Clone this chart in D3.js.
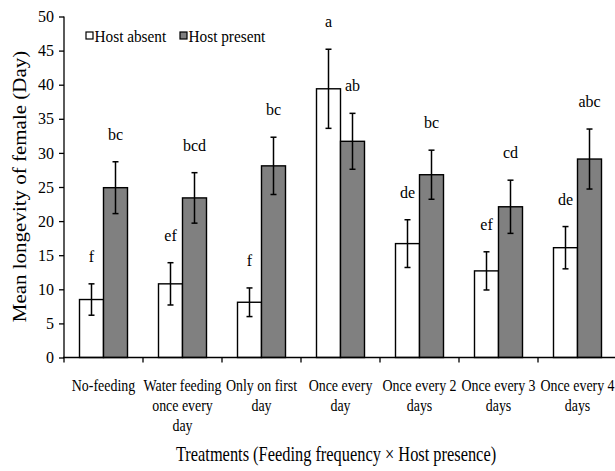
<!DOCTYPE html>
<html>
<head>
<meta charset="utf-8">
<script src="https://cdn.jsdelivr.net/npm/d3@7"></script>
<style>
  html, body { margin: 0; padding: 0; background: #fff; }
</style>
</head>
<body>
<svg id="chart" width="615" height="471"></svg>
<script>
// ---- Data ----
const categories = ["No-feeding", "Water feeding once every day", "Only on first day", "Once every day", "Once every 2 days", "Once every 3 days", "Once every 4 days"];
const categoryLines = [["No-feeding"], ["Water feeding", "once every", "day"], ["Only on first", "day"], ["Once every", "day"], ["Once every 2", "days"], ["Once every 3", "days"], ["Once every 4", "days"]];
const seriesNames = ["Host absent", "Host present"];
const absentMean = [8.5, 10.8, 8.1, 39.4, 16.7, 12.7, 16.1];
const absentErr = [2.3, 3.1, 2.1, 5.8, 3.5, 2.8, 3.1];
const presentMean = [24.9, 23.4, 28.1, 31.7, 26.8, 22.1, 29.1];
const presentErr = [3.8, 3.7, 4.2, 4.1, 3.6, 3.9, 4.4];
const absentLetters = ["f", "ef", "f", "a", "de", "ef", "de"];
const presentLetters = ["bc", "bcd", "bc", "ab", "bc", "cd", "abc"];
const yTicks = [0, 5, 10, 15, 20, 25, 30, 35, 40, 45, 50];
const yTitle = "Mean longevity of female (Day)";
const xTitle = "Treatments (Feeding frequency \u00d7 Host presence)";

// ---- Layout ----
const FONT = "'Liberation Serif', 'DejaVu Serif', serif";
const svg = d3.select("#chart").attr("font-family", FONT);
const mLeft = 64, mRight = 617, mTop = 16.5, mBottom = 357.5;
const squeeze = 0.87;
const fills = ["#ffffff", "#808080"];

const x = d3.scaleBand().domain(categories).range([mLeft, mRight]).padding(0);
const inner = d3.scaleBand().domain(seriesNames)
  .range([(x.bandwidth() - 48) / 2, (x.bandwidth() + 48) / 2]).padding(0);
const y = d3.scaleLinear().domain([0, 50]).range([mBottom, mTop]);

const rows = categories.map((c, i) => ({
  cat: c,
  vals: [
    { s: seriesNames[0], m: absentMean[i], e: absentErr[i], l: absentLetters[i] },
    { s: seriesNames[1], m: presentMean[i], e: presentErr[i], l: presentLetters[i] }
  ]
}));

// Bars
const g = svg.append("g");
const grp = g.selectAll("g.cat").data(rows).join("g")
  .attr("transform", d => `translate(${x(d.cat)},0)`);

grp.selectAll("rect").data(d => d.vals).join("rect")
  .attr("x", d => inner(d.s))
  .attr("y", d => y(d.m))
  .attr("width", inner.bandwidth())
  .attr("height", d => y(0) - y(d.m))
  .attr("fill", (d, i) => fills[i])
  .attr("stroke", "#000")
  .attr("stroke-width", 1.4);

// Error bars
const eb = grp.selectAll("g.err").data(d => d.vals).join("g")
  .attr("transform", d => `translate(${inner(d.s) + inner.bandwidth() / 2},0)`);
eb.append("line").attr("x1", 0).attr("x2", 0)
  .attr("y1", d => y(d.m + d.e)).attr("y2", d => y(d.m - d.e))
  .attr("stroke", "#000").attr("stroke-width", 1.5);
eb.append("line").attr("x1", -3).attr("x2", 3)
  .attr("y1", d => y(d.m + d.e)).attr("y2", d => y(d.m + d.e))
  .attr("stroke", "#000").attr("stroke-width", 1.5);
eb.append("line").attr("x1", -3).attr("x2", 3)
  .attr("y1", d => y(d.m - d.e)).attr("y2", d => y(d.m - d.e))
  .attr("stroke", "#000").attr("stroke-width", 1.5);
eb.append("text")
  .attr("x", 0).attr("y", d => y(d.m + d.e) - 22)
  .attr("text-anchor", "middle")
  .attr("font-family", FONT)
  .attr("font-size", 16)
  .attr("fill", "#000")
  .text(d => d.l);

// Y axis
const yAxis = d3.axisLeft(y).tickValues(yTicks).tickSize(5).tickPadding(5);
const ya = svg.append("g").attr("transform", `translate(${mLeft},0)`).call(yAxis)
  .attr("font-family", FONT).attr("font-size", 16);
ya.select(".domain").attr("stroke", "#000").attr("stroke-width", 1.3).attr("d", `M0,${mTop}V${mBottom}`);
ya.selectAll(".tick line").attr("stroke", "#000").attr("stroke-width", 1.3);
ya.selectAll(".tick text").attr("fill", "#000");

// X axis (ticks at category boundaries)
const boundaries = categories.map(c => x(c)).concat([mRight]);
const xa = svg.append("g");
xa.append("line").attr("x1", mLeft - 1).attr("x2", mRight).attr("y1", mBottom).attr("y2", mBottom)
  .attr("stroke", "#000").attr("stroke-width", 1.3);
xa.selectAll("line.tk").data(boundaries).join("line").attr("class", "tk")
  .attr("x1", d => d).attr("x2", d => d).attr("y1", mBottom).attr("y2", mBottom + 5)
  .attr("stroke", "#000").attr("stroke-width", 1.3);

// Category labels
const cl = svg.append("g").selectAll("g").data(categories).join("g")
  .attr("transform", d => `translate(${x(d) + x.bandwidth() / 2},${mBottom + 33}) scale(${squeeze},1)`);
cl.append("text").attr("text-anchor", "middle")
  .attr("font-family", FONT).attr("font-size", 16).attr("fill", "#000")
  .selectAll("tspan").data((d, i) => categoryLines[i]).join("tspan")
  .attr("x", 0).attr("dy", (d, i) => i === 0 ? 0 : 20.5).text(d => d);

// Axis titles
svg.append("text")
  .attr("transform", `translate(336,${mBottom + 103}) scale(0.82,1)`)
  .attr("text-anchor", "middle").attr("font-family", FONT).attr("font-size", 20)
  .attr("fill", "#000").text(xTitle);
svg.append("text")
  .attr("transform", `translate(26,186.5) rotate(-90) scale(1,0.85)`)
  .attr("text-anchor", "middle").attr("font-family", FONT).attr("font-size", 21)
  .attr("fill", "#000").text(yTitle);

// Legend
const legendX = [86, 180];
const lg = svg.append("g").selectAll("g").data(seriesNames).join("g")
  .attr("transform", (d, i) => `translate(${legendX[i]},32)`);
lg.append("rect").attr("x", 0).attr("y", 0).attr("width", 7).attr("height", 7)
  .attr("fill", (d, i) => fills[i]).attr("stroke", "#000").attr("stroke-width", 1.2);
lg.append("text")
  .attr("transform", "translate(8.5,10) scale(0.9,1)")
  .attr("font-family", FONT).attr("font-size", 17).attr("fill", "#000")
  .text(d => d);
</script>
</body>
</html>
